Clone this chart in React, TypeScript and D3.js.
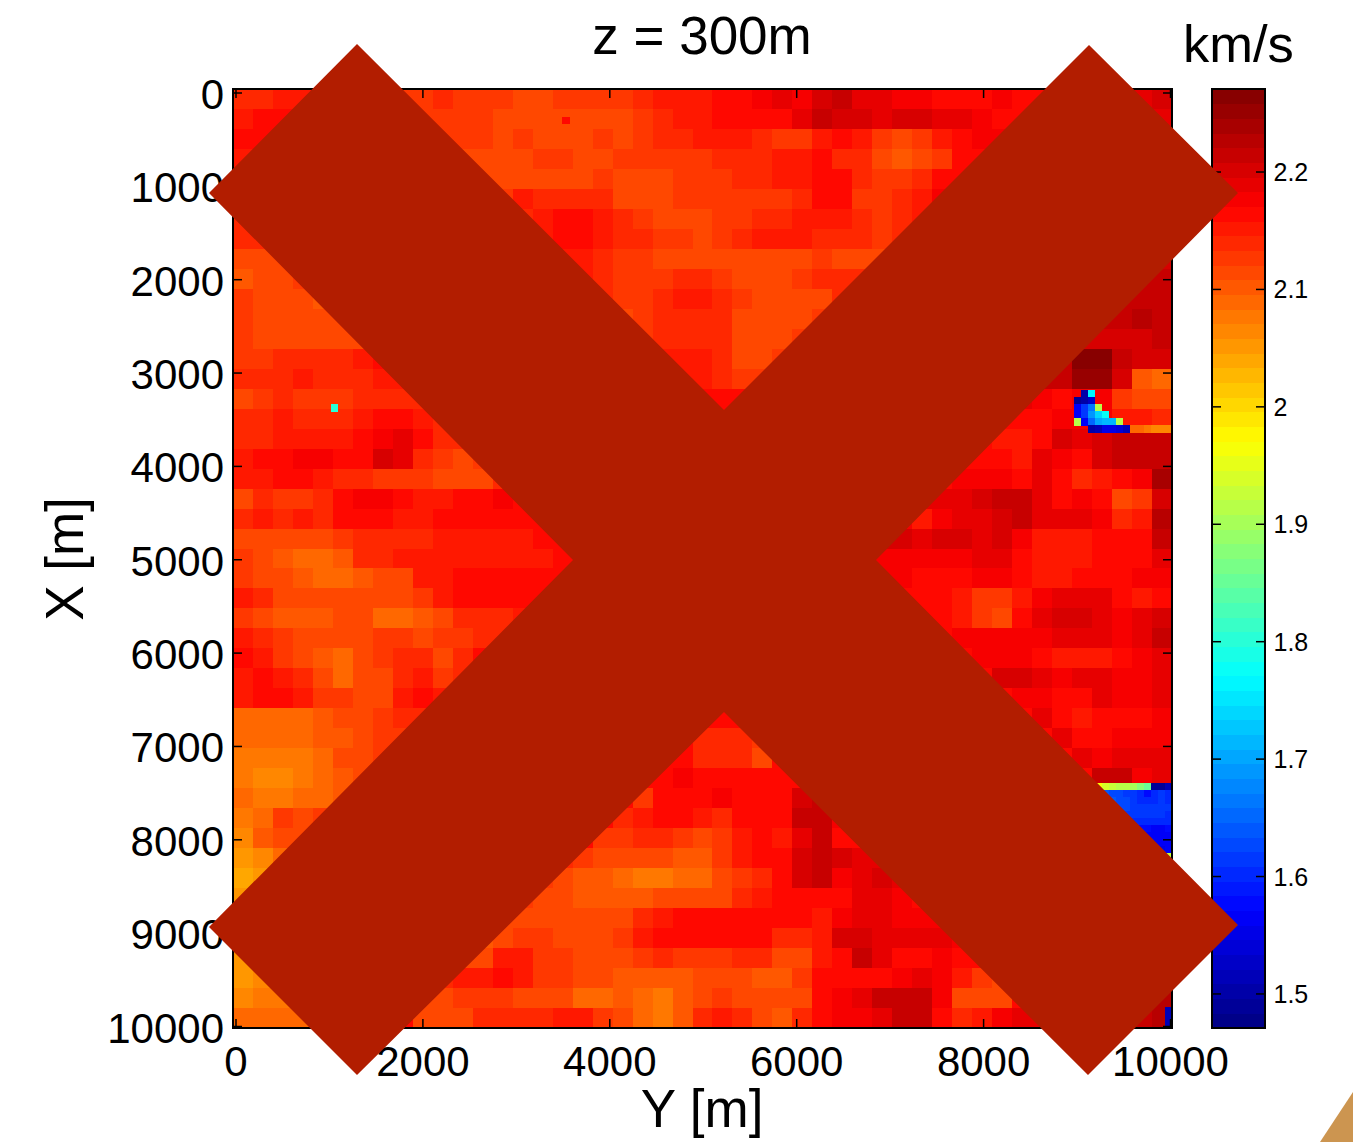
// App.tsx: velocity slice at z = 300m, crossed out
import React, { useEffect, useRef } from "react";
import * as d3 from "d3";

// velocity on a coarse 47 x 47 mesh, hundredths of km/s above 2.00
const velocityRows = [
  [14,14,15,15,14,14,14,13,13,13,14,13,13,13,12,12,13,13,13,13,14,15,15,15,16,17,18,19,18,20,22,19,19,18,18,17,17,17,18,17,17,17,18,18,18,19,20],
  [15,16,16,15,14,14,14,14,13,13,13,13,13,11,11,12,12,12,12,12,13,14,15,15,16,16,16,17,19,21,20,20,19,20,20,19,19,18,17,17,18,18,18,18,18,19,19],
  [16,17,17,16,15,14,14,14,13,13,13,13,13,12,13,12,12,12,13,12,13,14,14,15,15,15,14,13,13,15,17,15,13,12,13,15,17,18,18,17,18,18,18,18,18,18,18],
  [15,15,15,14,14,14,14,13,13,13,12,12,12,12,12,13,13,12,12,13,13,13,13,13,14,14,14,15,15,16,14,14,12,10,11,13,16,17,17,18,18,18,18,18,18,18,18],
  [15,14,14,14,14,13,13,13,13,13,12,12,12,12,11,11,12,12,13,12,12,12,13,13,13,14,14,15,15,16,16,14,13,13,14,16,17,17,18,18,18,18,18,19,19,19,19],
  [14,13,13,13,12,12,12,13,13,13,13,12,12,13,15,14,14,14,14,12,11,12,13,13,13,13,13,13,14,16,17,13,13,14,15,18,19,19,18,18,19,19,19,19,19,19,19],
  [14,13,13,13,12,12,13,13,13,13,13,13,13,14,14,15,16,16,15,14,13,12,12,12,13,13,14,14,15,15,15,14,13,14,15,17,18,18,18,18,19,19,19,19,19,19,19],
  [14,14,15,14,13,13,13,13,14,14,14,14,14,14,14,15,16,16,15,14,14,13,13,12,13,14,15,15,15,14,14,14,13,14,15,17,18,18,18,19,19,19,19,19,19,19,19],
  [11,11,12,13,13,14,14,13,14,14,14,14,14,14,15,15,15,15,14,13,13,12,12,11,11,11,11,12,12,13,12,11,12,13,15,16,18,18,18,18,19,19,19,20,20,20,20],
  [10,11,12,13,13,13,13,13,13,14,14,14,14,14,14,14,15,15,14,13,13,13,14,14,13,12,12,12,13,14,14,14,14,15,16,17,18,18,18,18,18,19,20,20,21,21,21],
  [13,12,11,11,10,11,12,12,13,13,13,13,13,13,13,14,14,14,14,13,13,14,15,15,14,13,11,11,12,12,14,15,16,17,18,19,20,20,20,20,20,20,21,21,21,21,21],
  [13,12,11,11,11,11,12,12,13,13,13,13,13,13,14,14,14,14,13,12,13,14,14,14,14,12,12,12,12,13,14,15,15,17,18,19,20,20,20,20,20,21,21,21,22,23,22],
  [13,12,12,12,12,12,12,14,14,14,14,14,14,14,14,14,15,14,14,13,13,14,14,14,14,12,12,12,13,15,17,17,18,18,19,19,20,20,20,20,21,21,20,20,20,20,22],
  [13,13,14,14,14,14,15,16,16,15,15,15,15,15,15,15,15,15,15,14,14,15,15,15,14,12,12,13,14,16,17,17,18,19,19,19,20,20,20,20,21,22,27,27,22,20,20],
  [14,14,14,15,14,14,14,15,15,15,15,15,15,15,15,15,15,15,15,15,15,15,15,15,14,13,13,14,16,17,18,18,18,19,19,18,19,19,20,21,21,22,25,25,20,10,9],
  [12,13,14,13,13,13,14,14,14,14,15,15,15,15,15,15,15,15,15,15,16,16,16,16,16,16,16,16,16,16,17,17,17,18,18,18,18,18,18,19,18,17,18,18,13,11,12],
  [14,14,15,14,14,14,15,16,16,15,14,15,15,15,15,15,15,15,15,15,16,16,16,16,16,16,16,16,16,16,17,17,17,17,18,18,17,17,16,17,17,18,18,18,15,15,14],
  [14,14,15,15,15,15,16,18,19,16,14,14,15,15,15,15,15,15,15,15,16,16,16,16,16,16,16,16,16,16,17,17,17,17,18,18,17,17,15,15,17,20,19,20,22,22,21],
  [15,16,17,18,18,17,17,20,19,14,13,12,13,14,15,16,16,16,16,16,16,16,16,16,16,16,16,16,16,16,16,16,16,16,16,16,16,16,16,15,19,18,17,20,21,22,22],
  [15,15,17,17,15,14,14,13,13,13,12,12,12,14,15,16,16,16,16,16,16,16,16,16,16,16,16,16,16,16,16,16,16,16,16,16,18,18,18,17,19,16,14,15,16,18,24],
  [12,14,13,13,14,17,18,18,16,15,15,16,17,18,16,16,16,16,16,16,16,16,16,16,16,16,16,16,16,16,16,16,16,16,19,19,19,20,21,21,19,17,18,17,12,13,20],
  [14,15,14,15,14,16,17,17,15,15,16,16,17,17,17,16,16,16,16,16,16,16,16,16,16,16,16,16,16,16,16,16,16,18,15,18,19,19,20,21,19,19,19,18,14,15,23],
  [12,12,11,11,12,13,14,14,14,14,15,15,15,15,15,16,16,16,16,16,16,16,16,16,16,16,16,16,16,16,16,16,20,20,19,20,20,19,20,18,15,15,15,17,17,16,22],
  [13,11,10,9,9,10,14,14,15,15,15,15,15,15,15,15,16,16,16,16,16,16,16,16,16,16,16,16,16,16,16,18,18,18,18,18,18,19,19,17,15,15,15,16,16,16,19],
  [13,12,11,10,9,9,10,11,11,15,15,16,16,16,16,16,16,16,16,16,16,16,16,16,16,16,16,16,16,16,16,18,18,18,17,17,17,18,18,16,15,15,16,16,16,18,18],
  [15,14,12,11,11,11,11,11,11,13,15,16,16,16,16,16,16,16,16,16,16,16,16,16,16,16,16,16,16,16,16,16,16,16,16,16,15,13,13,15,18,19,19,19,17,15,16],
  [13,12,10,10,10,12,11,9,9,10,11,14,14,14,15,16,16,16,16,16,16,16,16,16,16,16,16,16,16,16,16,16,16,16,17,17,15,13,12,16,19,20,20,19,18,19,20],
  [15,14,13,12,11,11,12,13,13,12,13,13,14,14,16,16,16,16,16,16,16,16,16,16,16,16,16,16,16,16,16,16,16,16,16,16,18,18,18,18,18,19,19,19,18,19,21],
  [16,15,13,12,10,9,11,13,14,14,12,14,16,16,16,16,16,16,16,16,16,16,16,16,16,16,16,16,16,16,16,16,16,16,16,16,16,18,18,18,17,15,15,15,16,18,19],
  [15,16,15,14,11,9,11,11,14,15,13,14,16,16,16,16,16,16,16,16,16,16,16,16,16,16,16,16,16,16,16,16,16,16,16,16,16,16,20,20,19,18,19,19,18,18,19],
  [15,16,16,15,13,13,12,11,15,16,15,16,16,16,16,16,16,16,16,16,16,16,16,16,16,16,16,16,16,16,16,16,16,16,16,16,16,16,16,18,18,16,17,19,18,18,19],
  [9,9,9,9,10,11,12,13,14,14,16,16,16,16,16,16,16,16,16,16,16,16,16,16,16,16,16,16,16,16,16,16,16,16,16,16,16,16,16,16,19,16,15,17,17,17,18],
  [9,9,9,9,10,10,12,13,13,16,16,16,16,16,16,16,16,16,16,16,16,16,16,14,14,14,13,16,16,16,16,16,16,16,16,16,16,16,16,16,16,19,17,17,18,18,18],
  [8,8,8,8,9,11,11,13,13,16,16,16,16,16,16,16,16,16,16,16,16,16,16,14,14,14,12,16,16,16,16,16,16,16,16,16,16,16,16,16,16,16,19,18,19,19,19],
  [8,7,7,8,9,10,11,12,16,16,16,16,16,16,16,16,16,16,16,16,16,16,18,17,17,17,16,16,16,16,16,16,16,16,16,16,16,16,16,16,16,16,16,22,21,18,19],
  [9,8,8,9,9,10,11,16,16,16,16,16,16,16,16,16,16,16,16,16,13,16,16,16,18,17,16,16,20,21,16,16,16,16,16,16,16,16,16,16,16,16,16,16,16,16,16],
  [8,9,13,11,13,12,16,16,16,16,16,16,16,16,16,16,16,16,16,14,15,17,16,15,14,16,16,16,21,21,18,16,16,16,16,16,16,16,16,16,16,16,16,16,16,16,16],
  [7,10,12,11,12,16,16,16,16,16,16,16,16,16,16,16,16,16,13,13,14,14,13,12,13,15,16,15,19,21,17,17,16,16,16,16,16,16,16,16,16,16,16,16,16,16,16],
  [5,7,9,9,16,16,16,16,16,16,16,16,16,16,16,16,14,13,12,11,12,11,10,10,13,15,16,17,20,22,20,19,19,16,16,16,16,16,16,16,16,16,16,16,16,16,16],
  [4,5,8,16,16,16,16,16,16,16,16,16,16,16,16,13,12,10,10,9,8,8,9,9,11,13,14,16,20,22,18,19,20,19,16,16,16,16,16,16,16,16,16,16,16,16,16],
  [5,7,16,16,16,16,16,16,16,16,16,16,16,16,13,12,12,10,10,10,10,12,12,12,12,14,15,16,17,17,17,19,19,18,17,16,16,16,16,16,16,16,16,16,16,16,16],
  [5,6,16,16,16,16,16,16,16,16,16,16,16,12,12,12,12,12,12,12,14,15,16,16,16,16,17,17,17,15,18,19,19,18,18,18,16,16,16,16,16,16,16,16,16,16,16],
  [5,6,16,16,16,16,16,16,16,16,16,16,10,11,13,13,12,12,12,13,15,16,16,16,17,17,16,14,14,15,20,20,19,19,19,19,18,16,16,16,16,16,16,16,16,16,16],
  [5,6,16,16,16,16,16,16,16,16,16,12,11,15,15,13,13,12,12,12,13,14,13,13,13,14,14,12,12,15,17,21,19,17,17,18,17,17,16,16,16,16,16,16,16,16,16],
  [5,6,8,16,16,16,16,16,16,16,14,15,15,16,15,13,13,11,11,10,10,10,10,11,11,12,10,10,13,16,17,17,17,18,19,18,15,13,12,16,16,16,16,16,16,16,16],
  [6,8,8,9,16,16,16,16,16,11,11,13,13,13,12,12,11,9,9,10,9,8,10,12,13,12,12,11,12,16,18,19,21,22,22,18,12,11,12,17,17,17,17,17,17,21,23],
  [9,9,9,9,9,16,16,16,16,11,11,12,14,14,14,14,15,15,13,12,9,8,10,14,15,14,12,10,14,17,18,18,19,21,21,17,14,15,18,19,19,18,19,19,18,21,23],
];

// isolated low velocity cells on the 134 x 134 model grid: [row, col, km/s]
const anomalyCells = [
  [4, 47, 2.16], [45, 14, 1.8],
  [43, 121, 1.5], [43, 122, 1.77],
  [44, 120, 1.49], [44, 121, 1.5], [44, 122, 1.53],
  [45, 120, 1.56], [45, 121, 1.61], [45, 122, 1.67], [45, 123, 1.92],
  [46, 120, 1.57], [46, 121, 1.62], [46, 122, 1.69], [46, 123, 1.74], [46, 124, 1.78],
  [47, 120, 1.91], [47, 121, 1.57], [47, 122, 1.65], [47, 123, 1.7], [47, 124, 1.71], [47, 125, 1.71], [47, 126, 1.92],
  [48, 122, 1.5], [48, 123, 1.52], [48, 124, 1.55], [48, 125, 1.55], [48, 126, 1.54], [48, 127, 1.52],
  [48, 128, 2.09], [48, 129, 2.09], [48, 130, 2.08], [48, 131, 2.07], [48, 132, 2.07], [48, 133, 2.07],
  [109, 133, 1.93], [131, 133, 1.52], [132, 133, 1.52], [133, 133, 1.52],
];

// the low velocity block near X = 7500m: [row, first col, km/s per col]
const blockRows: [number, number, number[]][] = [
  [99, 123, [1.96, 1.94, 1.93, 1.92, 1.91, 1.9, 1.88, 1.85, 1.49, 1.49, 1.52]],
  [100, 123, [1.64, 1.64, 1.63, 1.63, 1.62, 1.61, 1.6, 1.58, 1.6, 1.61, 1.6]],
  [101, 124, [1.65, 1.64, 1.63, 1.63, 1.62, 1.6, 1.6, 1.6, 1.62, 1.6]],
  [102, 125, [1.63, 1.63, 1.63, 1.62, 1.62, 1.61, 1.61, 1.62, 1.62]],
  [103, 126, [1.62, 1.62, 1.61, 1.61, 1.61, 1.61, 1.61, 1.6]],
  [104, 127, [1.6, 1.6, 1.6, 1.6, 1.6, 1.6, 1.6]],
  [105, 128, [1.58, 1.58, 1.58, 1.57, 1.57, 1.58]],
  [106, 129, [1.56, 1.56, 1.56, 1.57, 1.57]],
  [107, 130, [1.56, 1.56, 1.56, 1.56]],
  [108, 131, [1.56, 1.55, 1.56]],
];

const axisTicks = [0, 2000, 4000, 6000, 8000, 10000];
const xAxisTicks = [0, 1000, 2000, 3000, 4000, 5000, 6000, 7000, 8000, 9000, 10000];
const barTicks = [1.5, 1.6, 1.7, 1.8, 1.9, 2, 2.1, 2.2];
const colorLevels = 64;
const velocityMin = 1.471;
const velocityMax = 2.2707;

const FONT = "'Liberation Sans', Arial, sans-serif";

const jet = d3
  .scaleLinear<string>()
  .domain([0, 1 / 8, 3 / 8, 5 / 8, 7 / 8, 1])
  .range(["#000080", "#0000ff", "#00ffff", "#ffff00", "#ff0000", "#800000"])
  .interpolate(d3.interpolateRgb);

const levelColor = (i: number) => jet((i + 0.5) / colorLevels);

const velocityColor = (v: number) => {
  const t = (v - velocityMin) / (velocityMax - velocityMin);
  const i = Math.max(0, Math.min(colorLevels - 1, Math.floor(t * colorLevels)));
  return levelColor(i);
};

const App = () => {
  const ref = useRef<SVGSVGElement>(null);

  useEffect(() => {
    const svg = d3.select(ref.current);
    svg.selectAll("*").remove();

    const left = 233;
    const right = 1172;
    const top = 89;
    const bottom = 1028;

    const yScale = d3.scaleLinear().domain([0, 10000]).range([236, 1170.5]);
    const xScale = d3.scaleLinear().domain([0, 10000]).range([93, 1026.5]);
    const coarseX = d3.scaleBand<number>().domain(d3.range(47)).range([left, right]);
    const coarseY = d3.scaleBand<number>().domain(d3.range(47)).range([top, bottom]);
    const fineX = d3.scaleBand<number>().domain(d3.range(134)).range([left, right]);
    const fineY = d3.scaleBand<number>().domain(d3.range(134)).range([top, bottom]);

    const g = svg.append("g").attr("shape-rendering", "crispEdges");

    velocityRows.forEach((row, r) => {
      g.append("g")
        .selectAll("rect")
        .data(row)
        .enter()
        .append("rect")
        .attr("x", (d, c) => coarseX(c))
        .attr("y", coarseY(r))
        .attr("width", coarseX.bandwidth() + 0.5)
        .attr("height", coarseY.bandwidth() + 0.5)
        .attr("fill", (d) => velocityColor(2 + d / 100));
    });

    const fineCells = anomalyCells.concat(
      blockRows.flatMap(([row, first, values]) =>
        values.map((v, i) => [row, first + i, v])
      )
    );

    g.append("g")
      .selectAll("rect")
      .data(fineCells)
      .enter()
      .append("rect")
      .attr("x", (d) => fineX(d[1]))
      .attr("y", (d) => fineY(d[0]))
      .attr("width", fineX.bandwidth() + 0.3)
      .attr("height", fineY.bandwidth() + 0.3)
      .attr("fill", (d) => velocityColor(d[2]));

    // colorbar
    const barX0 = 1212;
    const barX1 = 1265;
    const barBand = d3
      .scaleBand<number>()
      .domain(d3.range(colorLevels))
      .range([bottom, top]);
    const barScale = d3
      .scaleLinear()
      .domain([velocityMin, velocityMax])
      .range([bottom, top]);

    g.append("g")
      .selectAll("rect")
      .data(d3.range(colorLevels))
      .enter()
      .append("rect")
      .attr("x", barX0)
      .attr("y", (d) => barScale(velocityMin + ((d + 1) / colorLevels) * (velocityMax - velocityMin)))
      .attr("width", barX1 - barX0)
      .attr("height", barBand.bandwidth() + 0.5)
      .attr("fill", (d) => levelColor(d));

    const frame = (x0: number, x1: number) =>
      svg
        .append("rect")
        .attr("x", x0)
        .attr("y", top)
        .attr("width", x1 - x0)
        .attr("height", bottom - top)
        .attr("fill", "none")
        .attr("stroke", "#000")
        .attr("stroke-width", 2);

    frame(left, right);
    frame(barX0, barX1);

    // tick marks go inward on all four sides, MATLAB style
    const tickLen = 9;
    const marks = svg.append("g").attr("stroke", "#000").attr("stroke-width", 1.5);

    axisTicks.forEach((t) => {
      marks.append("line").attr("x1", yScale(t)).attr("x2", yScale(t)).attr("y1", bottom).attr("y2", bottom - tickLen);
      marks.append("line").attr("x1", yScale(t)).attr("x2", yScale(t)).attr("y1", top).attr("y2", top + tickLen);
    });
    xAxisTicks.forEach((t) => {
      marks.append("line").attr("x1", left).attr("x2", left + tickLen).attr("y1", xScale(t)).attr("y2", xScale(t));
      marks.append("line").attr("x1", right).attr("x2", right - tickLen).attr("y1", xScale(t)).attr("y2", xScale(t));
    });
    barTicks.forEach((t) => {
      marks.append("line").attr("x1", barX0).attr("x2", barX0 + tickLen).attr("y1", barScale(t)).attr("y2", barScale(t));
      marks.append("line").attr("x1", barX1).attr("x2", barX1 - tickLen).attr("y1", barScale(t)).attr("y2", barScale(t));
    });

    const label = (text: string, x: number, y: number, size: number, anchor: string) =>
      svg
        .append("text")
        .attr("x", x)
        .attr("y", y)
        .attr("font-family", FONT)
        .attr("font-size", size)
        .attr("text-anchor", anchor)
        .attr("fill", "#000")
        .text(text);

    axisTicks.forEach((t) => label(String(t), yScale(t), 1076, 42, "middle"));
    xAxisTicks.forEach((t) => label(String(t), 224, xScale(t) + 16, 42, "end"));
    barTicks.forEach((t) => label(String(t), 1273.5, barScale(t) + 9, 25, "start"));

    label("z = 300m", 702, 54, 53, "middle");
    label("km/s", 1183, 62, 52.5, "start");
    label("Y [m]", 702, 1127, 53, "middle");
    label("X [m]", 0, 0, 53, "middle").attr("transform", "translate(83,559) rotate(-90)");

    // corner of the tan shape at the lower right
    svg
      .append("polygon")
      .attr("points", "1353,1092 1320,1142 1353,1142")
      .attr("fill", "#cc9550");

    // the big cross sits over everything
    svg
      .append("polygon")
      .attr(
        "points",
        "357,44 724,410 1089,45 1238,193 876,560 1238,925 1088,1075 724,712 357,1075 209,927 573,560 209,193"
      )
      .attr("fill", "#b21d00");
  }, []);

  return (
    <svg
      ref={ref}
      width={1353}
      height={1142}
      style={{ position: "absolute", left: 0, top: 0, background: "#fff" }}
    ></svg>
  );
};

export default App;
